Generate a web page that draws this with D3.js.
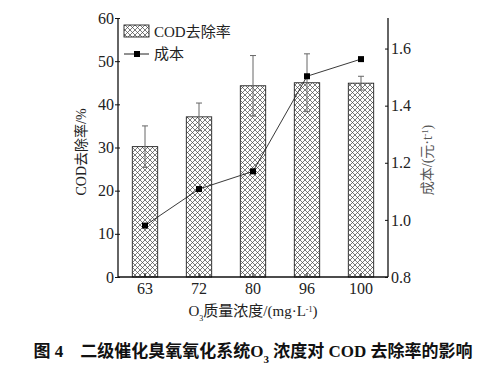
<!DOCTYPE html>
<html><head><meta charset="utf-8">
<script src="https://cdn.jsdelivr.net/npm/d3@7"></script>
<style>body{margin:0;background:#fff}svg{display:block}</style>
</head><body>
<script>
const categories = ["63","72","80","96","100"];
const codRemoval = [30.2, 37.1, 44.3, 45.0, 44.9];
const codError = [4.8, 3.2, 7.0, 6.7, 1.6];
const cost = [0.98, 1.108, 1.17, 1.503, 1.563];
const leftTicks = [0,10,20,30,40,50,60];
const rightTicks = [0.8,1.0,1.2,1.4,1.6];

const W=503,H=366;
const m={l:118,r:388,t:18,b:277};
const serif='"Liberation Serif","Times New Roman",serif';
const cjk='"Liberation Serif","Noto Sans CJK SC",serif';
const svg=d3.select("body").append("svg").attr("width",W).attr("height",H);
const defs=svg.append("defs");
const pat=defs.append("pattern").attr("id","hatch").attr("patternUnits","userSpaceOnUse")
  .attr("width",5).attr("height",5);
pat.append("rect").attr("width",5).attr("height",5).attr("fill","#fff");
pat.append("path").attr("d","M0,0L5,5M5,0L0,5M-1,4L1,6M4,-1L6,1M4,6L6,4M-1,1L1,-1")
  .attr("stroke","#444").attr("stroke-width",0.7);

const x=d3.scaleBand().domain(categories).range([m.l,m.r]).paddingInner(0.53).paddingOuter(0.265);
const y=d3.scaleLinear().domain([0,60]).range([m.b,m.t]);
const y2=d3.scaleLinear().domain([0.8,1.707]).range([m.b,m.t]);

// bars
svg.append("g").selectAll("rect").data(categories).join("rect")
  .attr("x",d=>x(d)).attr("width",x.bandwidth())
  .attr("y",(d,i)=>y(codRemoval[i])).attr("height",(d,i)=>m.b-y(codRemoval[i]))
  .attr("fill","url(#hatch)").attr("stroke","#222").attr("stroke-width",0.9);
// error bars
const eg=svg.append("g").attr("stroke","#666").attr("stroke-width",1);
categories.forEach((d,i)=>{
  const cx=x(d)+x.bandwidth()/2;
  const top=y(codRemoval[i]+codError[i]), bot=y(codRemoval[i]-codError[i]);
  eg.append("line").attr("x1",cx).attr("x2",cx).attr("y1",top).attr("y2",bot);
  eg.append("line").attr("x1",cx-3).attr("x2",cx+3).attr("y1",top).attr("y2",top);
  eg.append("line").attr("x1",cx-3).attr("x2",cx+3).attr("y1",bot).attr("y2",bot);
});
// cost line
const cx=(d)=>x(d)+x.bandwidth()/2;
svg.append("path").datum(categories)
  .attr("d",d3.line().x(d=>cx(d)).y((d,i)=>y2(cost[i])))
  .attr("fill","none").attr("stroke","#222").attr("stroke-width",0.9);
svg.append("g").selectAll("rect").data(categories).join("rect")
  .attr("x",d=>cx(d)-3).attr("y",(d,i)=>y2(cost[i])-3).attr("width",6).attr("height",6).attr("fill","#000");

// axes
const axL=svg.append("g").attr("transform",`translate(${m.l},0)`)
  .call(d3.axisLeft(y).tickValues(leftTicks).tickSize(3).tickPadding(3));
axL.selectAll(".tick line").attr("x2",-3).attr("x1",2);
const axR=svg.append("g").attr("transform",`translate(${m.r},0)`)
  .call(d3.axisRight(y2).tickValues(rightTicks).tickFormat(d3.format(".1f")).tickSize(-3).tickPadding(3));
const axB=svg.append("g").attr("transform",`translate(0,${m.b})`)
  .call(d3.axisBottom(x).tickSize(-4).tickPadding(6));
[axL,axR,axB].forEach(a=>{
  a.select(".domain").attr("stroke","#111").attr("stroke-width",1.3);
  a.selectAll(".tick line").attr("stroke","#111");
  a.selectAll("text").attr("font-family",serif).attr("font-size",16).attr("fill","#222");
});
axL.select(".domain").attr("d",`M0,${m.t}V${m.b}`);
axR.select(".domain").attr("d",`M0,${m.t}V${m.b}`);
axB.select(".domain").attr("d",`M${m.l},0H${m.r}`);
axR.selectAll("text").attr("x",3);
axL.selectAll("text").attr("x",-4);

// axis titles
svg.append("text").attr("transform","translate(86,152) rotate(-90)").attr("text-anchor","middle")
  .attr("font-family",cjk).attr("font-size",14).attr("fill","#222").text("COD去除率/%");
const rt=svg.append("text").attr("transform","translate(432,160) rotate(-90)").attr("text-anchor","middle")
  .attr("font-family",cjk).attr("font-size",14).attr("fill","#555");
rt.append("tspan").text("成本/(元·t");
rt.append("tspan").attr("baseline-shift","super").attr("font-size",8).text("-1");
rt.append("tspan").text(")");
const xt=svg.append("text").attr("x",253).attr("y",316).attr("text-anchor","middle")
  .attr("font-family",cjk).attr("font-size",15).attr("fill","#222");
xt.append("tspan").text("O");
xt.append("tspan").attr("baseline-shift","sub").attr("font-size",8).text("3");
xt.append("tspan").text("质量浓度/(mg·L");
xt.append("tspan").attr("baseline-shift","super").attr("font-size",8).text("-1");
xt.append("tspan").text(")");

// legend
svg.append("rect").attr("x",124).attr("y",25).attr("width",25).attr("height",12)
  .attr("fill","url(#hatch)").attr("stroke","#222").attr("stroke-width",0.9);
svg.append("text").attr("x",154).attr("y",37).attr("font-family",cjk).attr("font-size",15).attr("fill","#222").text("COD去除率");
svg.append("line").attr("x1",124).attr("x2",149).attr("y1",54).attr("y2",54).attr("stroke","#222");
svg.append("rect").attr("x",134).attr("y",51).attr("width",6).attr("height",6).attr("fill","#000");
svg.append("text").attr("x",154).attr("y",59).attr("font-family",cjk).attr("font-size",15).attr("fill","#222").text("成本");

// caption
const cap=svg.append("text").attr("x",253).attr("y",357).attr("text-anchor","middle")
  .attr("font-family",cjk).attr("font-size",17).attr("font-weight","bold").attr("fill","#111");
cap.append("tspan").text("图 4　二级催化臭氧氧化系统O");
cap.append("tspan").attr("baseline-shift","sub").attr("font-size",11).text("3");
cap.append("tspan").text(" 浓度对 COD 去除率的影响");
</script>
</body></html>
